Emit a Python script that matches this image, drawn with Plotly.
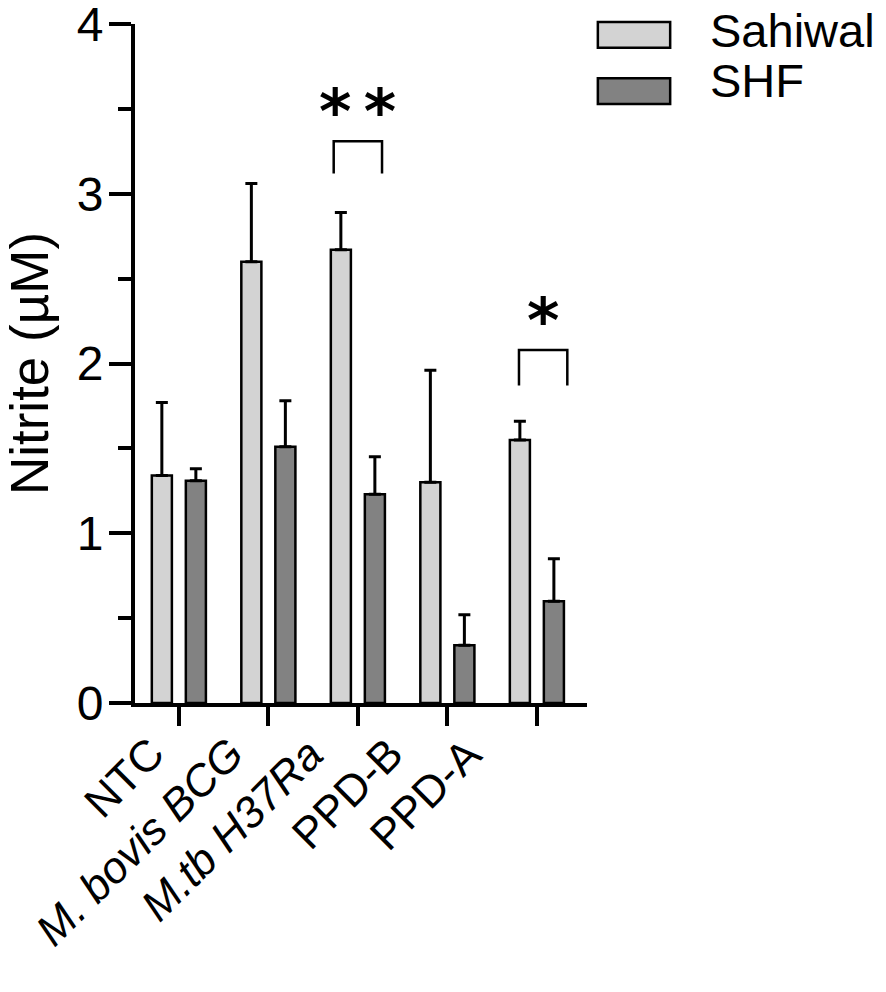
import plotly.graph_objects as go

#%% Data
categories = ["NTC", "M. bovis BCG", "M.tb H37Ra", "PPD-B", "PPD-A"]
tick_text = ["NTC", "<i>M. bovis BCG</i>", "<i>M.tb H37Ra</i>", "PPD-B", "PPD-A"]

sahiwal_mean = [1.34, 2.60, 2.67, 1.30, 1.55]
sahiwal_err = [0.43, 0.46, 0.22, 0.66, 0.11]
shf_mean = [1.31, 1.51, 1.23, 0.34, 0.60]
shf_err = [0.07, 0.27, 0.22, 0.18, 0.25]

# significance brackets (x position, bracket bottom, bracket top, star y, label)
sig_x = [2.0, 4.07]
sig_low = [3.12, 1.87]
sig_high = [3.31, 2.08]
sig_star_y = [3.53, 2.30]
sig_label = ["*\u2009*", "*"]

FONT = "Liberation Sans"
LIGHT = "#d3d3d3"
DARK = "#828282"

#%% Figure
fig = go.Figure()

x_pos = list(range(len(categories)))

fig.add_trace(go.Bar(
    x=x_pos, y=sahiwal_mean, name="Sahiwal",
    marker=dict(color=LIGHT, line=dict(color="black", width=2.5)),
    error_y=dict(type="data", symmetric=False, array=sahiwal_err,
                 arrayminus=[0] * len(sahiwal_err),
                 color="black", thickness=3, width=6),
))
fig.add_trace(go.Bar(
    x=x_pos, y=shf_mean, name="SHF",
    marker=dict(color=DARK, line=dict(color="black", width=2.5)),
    error_y=dict(type="data", symmetric=False, array=shf_err,
                 arrayminus=[0] * len(shf_err),
                 color="black", thickness=3, width=6),
))

# brackets + stars
for x, lo, hi, sy, lab in zip(sig_x, sig_low, sig_high, sig_star_y, sig_label):
    fig.add_shape(type="path", xref="x", yref="y",
                  path=f"M {x-0.27},{lo} L {x-0.27},{hi} L {x+0.27},{hi} L {x+0.27},{lo}",
                  line=dict(color="black", width=2.5))
    fig.add_annotation(x=x, y=sy, xref="x", yref="y", text=f"<b>{lab}</b>",
                       showarrow=False, yanchor="middle", yshift=-8,
                       font=dict(family="DejaVu Sans", size=62, color="black"))

# category labels, rotated, drawn as annotations so they sit like the original
for i, txt in enumerate(tick_text):
    fig.add_annotation(x=i, y=0, xref="x", yref="paper", text=txt,
                       textangle=-45, showarrow=False,
                       xanchor="right", yanchor="top",
                       xshift=-3 - 10 * i, yshift=-23,
                       font=dict(family=FONT, size=44, color="black"))

# legend drawn by hand (wide boxes)
leg_names = ["Sahiwal", "SHF"]
leg_colors = [LIGHT, DARK]
leg_box_y = [0.984, 0.901]
leg_text_y = [0.990, 0.917]
for name, col, by, ty in zip(leg_names, leg_colors, leg_box_y, leg_text_y):
    fig.add_shape(type="rect", xref="paper", yref="paper",
                  x0=1.024, x1=1.184, y0=by - 0.019, y1=by + 0.019,
                  fillcolor=col, line=dict(color="black", width=2.5))
    fig.add_annotation(x=1.268, y=ty, xref="paper", yref="paper", text=name,
                       showarrow=False, xanchor="left", yanchor="middle",
                       font=dict(family=FONT, size=47, color="black"))

fig.update_layout(
    width=886, height=992,
    margin=dict(l=135, r=299, t=24, b=289),
    plot_bgcolor="white", paper_bgcolor="white",
    showlegend=False,
    barmode="group", bargap=0.24, bargroupgap=0.41,
    font=dict(family=FONT, color="black"),
)

fig.update_xaxes(
    range=[-0.49, 4.56], automargin=False,
    tickmode="array", tickvals=x_pos, showticklabels=False,
    showline=True, linecolor="black", linewidth=4,
    ticks="outside", ticklen=19, tickwidth=4, tickcolor="black",
    showgrid=False, zeroline=False,
)
fig.update_yaxes(
    range=[0, 4], dtick=1, tick0=0, automargin=False,
    tickfont=dict(size=48, family=FONT),
    ticklabeloverflow="allow", ticklabelstandoff=-4,
    title=dict(text="Nitrite (µM)", font=dict(size=53, family=FONT), standoff=38),
    showline=True, linecolor="black", linewidth=4,
    ticks="outside", ticklen=22, tickwidth=4, tickcolor="black",
    minor=dict(dtick=0.5, ticks="outside", ticklen=13, tickwidth=4, tickcolor="black"),
    showgrid=False, zeroline=False,
)

# drop the default 8px page margin so the figure fills the window
fig.write_html("out.html", config={"displayModeBar": False},
               post_script="document.body.style.margin = '0';")
